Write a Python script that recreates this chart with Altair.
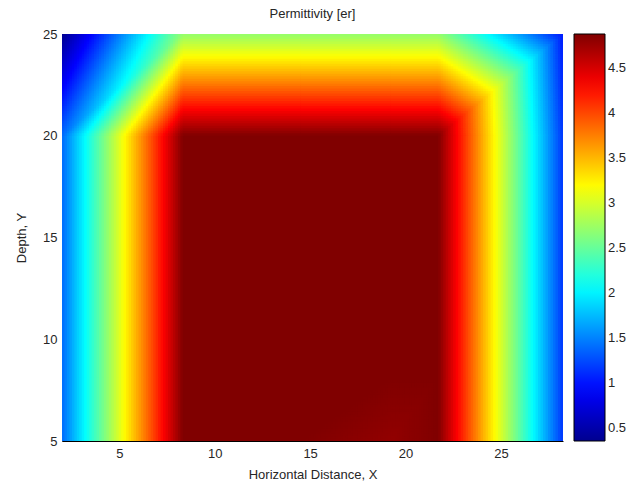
import altair as alt
import numpy as np
import pandas as pd

# ---- text ----
title_text = "Permittivity [er]"
x_title = "Horizontal Distance, X"
y_title = "Depth, Y"

# ---- data: node grid of permittivity ----
x_nodes = [2.0, 8.33, 14.5, 19.2, 21.71, 28.25]
y_nodes = [5.0, 8.1, 20.0, 25.0]
er_y5 = [1.38, 4.88, 4.88, 4.80, 4.88, 1.15]
er_y8 = [1.38, 4.88, 4.88, 4.88, 4.88, 1.15]
er_y20 = [1.38, 4.88, 4.88, 4.88, 4.88, 1.15]
er_y25 = [0.35, 2.70, 2.70, 2.70, 2.70, 1.02]

x_ticks = [5, 10, 15, 20, 25]
y_ticks = [5, 10, 15, 20, 25]
cbar_ticks = [0.5, 1, 1.5, 2, 2.5, 3, 3.5, 4, 4.5]
c_min, c_max = 0.35, 4.88

# jet colour map stops (evenly spaced)
jet = ["#00008F", "#0000FF", "#0080FF", "#00FFFF", "#80FF80",
       "#FFFF00", "#FF8000", "#FF0000", "#800000"]
c_dom = [c_min + k * (c_max - c_min) / 8 for k in range(9)]

# ---- render the node grid with triangle (Gouraud-style) shading ----
V = np.array([er_y5, er_y8, er_y20, er_y25])
px_x, px_y = 19.07, 20.37  # screen resolution of the mesh
cell = 2.5
ex, ey = 1.0 / px_x, 1.0 / px_y  # ~1px overlap so cells leave no seams
xmax, ymax = x_nodes[-1], y_nodes[-1]
rows = []
for j in range(len(y_nodes) - 1):
    for i in range(len(x_nodes) - 1):
        x0, x1 = x_nodes[i], x_nodes[i + 1]
        y0, y1 = y_nodes[j], y_nodes[j + 1]
        bl, br = V[j, i], V[j, i + 1]
        tl, tr = V[j + 1, i], V[j + 1, i + 1]
        vary_x = not (bl == br and tl == tr)
        vary_y = not (bl == tl and br == tr)
        nx = int(np.ceil((x1 - x0) * px_x / cell)) if vary_x else 1
        ny = int(np.ceil((y1 - y0) * px_y / cell)) if vary_y else 1
        for a in range(nx):
            for b in range(ny):
                u = (a + 0.5) / nx
                v = (b + 0.5) / ny
                if u >= v:
                    val = bl + u * (br - bl) + v * (tr - br)
                else:
                    val = bl + v * (tl - bl) + u * (tr - tl)
                rows.append({
                    "x": x0 + a * (x1 - x0) / nx,
                    "x2": min(x0 + (a + 1) * (x1 - x0) / nx + ex, xmax),
                    "y": y0 + b * (y1 - y0) / ny,
                    "y2": min(y0 + (b + 1) * (y1 - y0) / ny + ey, ymax),
                    "er": float(val),
                })
df = pd.DataFrame(rows)

FONT = "Liberation Sans"
TXT = "#262626"

cscale = alt.Scale(domain=c_dom, range=jet, interpolate="rgb", clamp=True)

chart = alt.Chart(df).mark_rect().encode(
    x=alt.X("x:Q",
            scale=alt.Scale(domain=[x_nodes[0], x_nodes[-1]], nice=False, zero=False),
            axis=alt.Axis(values=x_ticks, title=x_title, grid=False, ticks=False,
                          domainColor="black", domainWidth=1,
                          labelFontSize=13, labelPadding=6, labelColor=TXT, labelFont=FONT,
                          titleFontSize=13, titleFontWeight="normal", titleColor=TXT,
                          titleFont=FONT, titlePadding=8)),
    x2="x2:Q",
    y=alt.Y("y:Q",
            scale=alt.Scale(domain=[y_nodes[0], y_nodes[-1]], nice=False, zero=False),
            axis=alt.Axis(values=y_ticks, title=y_title, grid=False, ticks=False,
                          domainColor="black", domainWidth=1,
                          labelFontSize=13, labelPadding=5, labelColor=TXT, labelFont=FONT,
                          titleFontSize=13, titleFontWeight="normal", titleColor=TXT,
                          titleFont=FONT, titlePadding=14)),
    y2="y2:Q",
    color=alt.Color("er:Q", scale=cscale,
                    legend=alt.Legend(type="gradient", title=None, orient="none",
                                      legendX=512, legendY=0,
                                      direction="vertical", gradientLength=407,
                                      gradientThickness=31, values=cbar_ticks, format="~g",
                                      labelFontSize=13, labelOffset=3, labelColor=TXT,
                                      labelFont=FONT, gradientStrokeColor="black",
                                      gradientStrokeWidth=1)),
).properties(
    width=501,
    height=407,
    title=alt.TitleParams(title_text, fontSize=13, fontWeight="normal", font=FONT,
                          color=TXT, anchor="middle", baseline="bottom", offset=-6),
    autosize=alt.AutoSizeParams(type="none"),
    padding={"left": 62, "top": 34, "right": 79, "bottom": 42},
    background="white",
).configure_view(stroke=None)

chart.save("out.html", embed_options={"renderer": "svg", "actions": False})
